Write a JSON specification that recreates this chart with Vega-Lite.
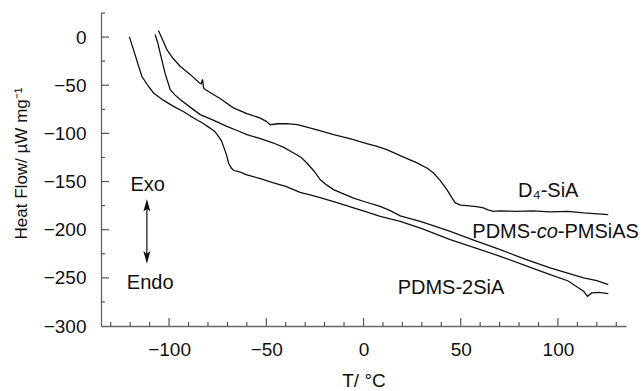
{
  "$schema": "https://vega.github.io/schema/vega-lite/v6.json",
  "width": 525,
  "height": 313,
  "autosize": {"type": "none"},
  "padding": {"left": 101, "top": 13, "right": 18, "bottom": 65},
  "background": "white",
  "config": {
    "view": {"stroke": null},
    "font": "Liberation Sans",
    "axis": {"grid": false, "domainColor": "#666", "tickColor": "#666", "domainWidth": 1.3, "labelFont": "Liberation Sans", "titleFont": "Liberation Sans", "labelColor": "#111", "titleColor": "#111", "titleFontWeight": "normal"}
  },
  "datasets": {
    "curves": [
      {"s":"A","x":-120.4,"y":0.2},{"s":"A","x":-118.3,"y":-13},{"s":"A","x":-116,"y":-28},{"s":"A","x":-114,"y":-40.7},{"s":"A","x":-111,"y":-50},{"s":"A","x":-108,"y":-58},{"s":"A","x":-103,"y":-65.5},{"s":"A","x":-97.7,"y":-72},{"s":"A","x":-92,"y":-78},{"s":"A","x":-87.4,"y":-84},{"s":"A","x":-83,"y":-89},{"s":"A","x":-78.9,"y":-94.5},{"s":"A","x":-76.5,"y":-98},{"s":"A","x":-74.6,"y":-103},{"s":"A","x":-73,"y":-108},{"s":"A","x":-72,"y":-113.5},{"s":"A","x":-70.5,"y":-122},{"s":"A","x":-69.4,"y":-130.7},{"s":"A","x":-68,"y":-136},{"s":"A","x":-66.9,"y":-138.3},{"s":"A","x":-63,"y":-140.5},{"s":"A","x":-60,"y":-143},{"s":"A","x":-53,"y":-147},{"s":"A","x":-46.3,"y":-151.5},{"s":"A","x":-40,"y":-155},{"s":"A","x":-32.6,"y":-161.2},{"s":"A","x":-26,"y":-164.5},{"s":"A","x":-18.8,"y":-168.8},{"s":"A","x":-12,"y":-173},{"s":"A","x":-5.1,"y":-177.4},{"s":"A","x":1.5,"y":-181.5},{"s":"A","x":8.6,"y":-186.1},{"s":"A","x":18.9,"y":-191.3},{"s":"A","x":30,"y":-199},{"s":"A","x":44.6,"y":-210.3},{"s":"A","x":57,"y":-218.5},{"s":"A","x":70.3,"y":-227.6},{"s":"A","x":83,"y":-237},{"s":"A","x":96,"y":-246.6},{"s":"A","x":105,"y":-253},{"s":"A","x":113.2,"y":-264},{"s":"A","x":115.2,"y":-269.2},{"s":"A","x":117.4,"y":-265.7},{"s":"A","x":121,"y":-265},{"s":"A","x":125.9,"y":-266.4},
      {"s":"B","x":-107.2,"y":2.6},{"s":"B","x":-105.8,"y":-6},{"s":"B","x":-104.6,"y":-16.4},{"s":"B","x":-102,"y":-38},{"s":"B","x":-99.4,"y":-54.5},{"s":"B","x":-97,"y":-60},{"s":"B","x":-94.3,"y":-64.9},{"s":"B","x":-89,"y":-73},{"s":"B","x":-84,"y":-80.5},{"s":"B","x":-77,"y":-86.5},{"s":"B","x":-70.3,"y":-92.7},{"s":"B","x":-65,"y":-97},{"s":"B","x":-60,"y":-101.3},{"s":"B","x":-53,"y":-105.5},{"s":"B","x":-46.3,"y":-110},{"s":"B","x":-41,"y":-114.5},{"s":"B","x":-36,"y":-120.4},{"s":"B","x":-32,"y":-125},{"s":"B","x":-29.1,"y":-130.8},{"s":"B","x":-25.5,"y":-139},{"s":"B","x":-22.3,"y":-148},{"s":"B","x":-19,"y":-153.5},{"s":"B","x":-15.4,"y":-158.4},{"s":"B","x":-10,"y":-163},{"s":"B","x":-5.1,"y":-167.2},{"s":"B","x":1.5,"y":-171.5},{"s":"B","x":8.6,"y":-175.9},{"s":"B","x":14,"y":-180.5},{"s":"B","x":18.9,"y":-185.6},{"s":"B","x":30,"y":-192},{"s":"B","x":44.6,"y":-201.7},{"s":"B","x":57,"y":-211},{"s":"B","x":70.3,"y":-220.7},{"s":"B","x":83,"y":-230.5},{"s":"B","x":96,"y":-239.7},{"s":"B","x":105,"y":-245},{"s":"B","x":113.2,"y":-250.1},{"s":"B","x":120,"y":-253},{"s":"B","x":125.9,"y":-257},
      {"s":"C","x":-105.5,"y":6.8},{"s":"C","x":-103.5,"y":-2},{"s":"C","x":-101.1,"y":-13},{"s":"C","x":-98,"y":-22},{"s":"C","x":-94.3,"y":-30.3},{"s":"C","x":-89,"y":-39},{"s":"C","x":-84.5,"y":-47.5},{"s":"C","x":-83.5,"y":-48.5},{"s":"C","x":-82.8,"y":-44},{"s":"C","x":-82.2,"y":-53},{"s":"C","x":-81.4,"y":-54.5},{"s":"C","x":-74,"y":-63.5},{"s":"C","x":-66.9,"y":-73.5},{"s":"C","x":-60,"y":-79.5},{"s":"C","x":-53.1,"y":-84.1},{"s":"C","x":-50,"y":-87.5},{"s":"C","x":-48,"y":-91},{"s":"C","x":-44,"y":-90},{"s":"C","x":-39.4,"y":-89.9},{"s":"C","x":-34,"y":-90.8},{"s":"C","x":-29.1,"y":-93.4},{"s":"C","x":-22,"y":-97.5},{"s":"C","x":-15.4,"y":-101.3},{"s":"C","x":-7,"y":-105.5},{"s":"C","x":1.7,"y":-110.6},{"s":"C","x":7,"y":-113.5},{"s":"C","x":12,"y":-116.9},{"s":"C","x":18.9,"y":-123.1},{"s":"C","x":27.5,"y":-130.7},{"s":"C","x":33,"y":-136.5},{"s":"C","x":36,"y":-141.1},{"s":"C","x":39.5,"y":-149},{"s":"C","x":42.9,"y":-158.4},{"s":"C","x":45.5,"y":-167},{"s":"C","x":47.2,"y":-172.2},{"s":"C","x":50,"y":-174.5},{"s":"C","x":53.2,"y":-175},{"s":"C","x":58,"y":-176},{"s":"C","x":61.7,"y":-177.4},{"s":"C","x":64,"y":-179.5},{"s":"C","x":66.9,"y":-181},{"s":"C","x":70,"y":-180.5},{"s":"C","x":78.9,"y":-181},{"s":"C","x":87,"y":-180.5},{"s":"C","x":96,"y":-181.5},{"s":"C","x":105,"y":-181},{"s":"C","x":113.2,"y":-182.6},{"s":"C","x":125.9,"y":-184.4}
    ],
    "xticks": [
      {"v":-130,"k":"minor"},{"v":-120,"k":"minor"},{"v":-110,"k":"minor"},{"v":-100,"k":"major"},{"v":-90,"k":"minor"},{"v":-80,"k":"minor"},{"v":-70,"k":"minor"},{"v":-60,"k":"minor"},{"v":-50,"k":"major"},{"v":-40,"k":"minor"},{"v":-30,"k":"minor"},{"v":-20,"k":"minor"},{"v":-10,"k":"minor"},{"v":0,"k":"major"},{"v":10,"k":"minor"},{"v":20,"k":"minor"},{"v":30,"k":"minor"},{"v":40,"k":"minor"},{"v":50,"k":"major"},{"v":60,"k":"minor"},{"v":70,"k":"minor"},{"v":80,"k":"minor"},{"v":90,"k":"minor"},{"v":100,"k":"major"},{"v":110,"k":"minor"},{"v":120,"k":"minor"},{"v":130,"k":"minor"}
    ],
    "yticks": [
      {"v":-275,"k":"minor"},{"v":-250,"k":"major"},{"v":-225,"k":"minor"},{"v":-200,"k":"major"},{"v":-175,"k":"minor"},{"v":-150,"k":"major"},{"v":-125,"k":"minor"},{"v":-100,"k":"major"},{"v":-75,"k":"minor"},{"v":-50,"k":"major"},{"v":-25,"k":"minor"},{"v":0,"k":"major"},{"v":25,"k":"minor"}
    ],
    "labels": [
      {"text":"D₄-SiA","x":95,"y":-159.5},
      {"text":"PDMS-2SiA","x":45,"y":-261},
      {"text":"Exo","x":-111,"y":-154},
      {"text":"Endo","x":-109.7,"y":-255.5}
    ],
    "colabel": [
      {"part":"pre","text":"PDMS-","x":94.5,"y":-202},
      {"part":"mid","text":"co","x":94.5,"y":-202},
      {"part":"post","text":"-PMSiAS","x":94.5,"y":-202}
    ],
    "arrow": [{"x":-111.4,"y":-172,"y2":-231}],
    "heads": [
      {"dir":"up","x":-111.4,"y":-175.3},
      {"dir":"down","x":-111.4,"y":-228}
    ]
  },
  "layer": [
    {
      "data": {"name": "curves"},
      "mark": {"type": "line", "color": "#111", "strokeWidth": 1.3},
      "encoding": {
        "x": {"field": "x", "type": "quantitative", "scale": {"domain": [-135, 135], "nice": false, "zero": false},
              "axis": {"orient": "bottom", "values": [-100, -50, 0, 50, 100], "tickSize": -8, "tickOpacity": 0, "labelOverlap": false, "labelPadding": 22, "labelFontSize": 19, "title": "T/ °C", "titleFontSize": 19, "titleY": 54, "titleBaseline": "middle"}},
        "y": {"field": "y", "type": "quantitative", "scale": {"domain": [-300, 25], "nice": false, "zero": false},
              "axis": {"orient": "left", "values": [-300, -250, -200, -150, -100, -50, 0], "tickSize": -8, "tickOpacity": 0, "labelOverlap": false, "labelPadding": 23, "labelFontSize": 19, "title": "Heat Flow/ µW mg⁻¹", "titleFontSize": 17, "titleX": -80, "titleY": 150, "titleAngle": -90, "titleBaseline": "middle", "titleAlign": "center"}},
        "detail": {"field": "s"}
      }
    },
    {
      "data": {"name": "xticks"},
      "transform": [{"filter": "datum.k === 'major'"}],
      "mark": {"type": "tick", "orient": "vertical", "size": 8, "thickness": 1.2, "yOffset": -4, "color": "#555", "opacity": 1},
      "encoding": {
        "x": {"field": "v", "type": "quantitative"},
        "y": {"datum": -300, "type": "quantitative"}
      }
    },
    {
      "data": {"name": "xticks"},
      "transform": [{"filter": "datum.k === 'minor'"}],
      "mark": {"type": "tick", "orient": "vertical", "size": 4, "thickness": 1.2, "yOffset": -2, "color": "#555", "opacity": 1},
      "encoding": {
        "x": {"field": "v", "type": "quantitative"},
        "y": {"datum": -300, "type": "quantitative"}
      }
    },
    {
      "data": {"name": "yticks"},
      "transform": [{"filter": "datum.k === 'major'"}],
      "mark": {"type": "tick", "orient": "horizontal", "size": 8, "thickness": 1.2, "xOffset": 4, "color": "#555", "opacity": 1},
      "encoding": {
        "y": {"field": "v", "type": "quantitative"},
        "x": {"datum": -135, "type": "quantitative"}
      }
    },
    {
      "data": {"name": "yticks"},
      "transform": [{"filter": "datum.k === 'minor'"}],
      "mark": {"type": "tick", "orient": "horizontal", "size": 4, "thickness": 1.2, "xOffset": 2, "color": "#555", "opacity": 1},
      "encoding": {
        "y": {"field": "v", "type": "quantitative"},
        "x": {"datum": -135, "type": "quantitative"}
      }
    },
    {
      "data": {"name": "arrow"},
      "mark": {"type": "rule", "color": "#111", "strokeWidth": 1.2},
      "encoding": {
        "x": {"field": "x", "type": "quantitative"},
        "y": {"field": "y", "type": "quantitative"},
        "y2": {"field": "y2"}
      }
    },
    {
      "data": {"name": "heads"},
      "transform": [{"filter": "datum.dir === 'up'"}],
      "mark": {"type": "point", "shape": "M0,-1L0.5,0.8L0,0.4L-0.5,0.8Z", "size": 196, "filled": true, "color": "#111", "opacity": 1},
      "encoding": {
        "x": {"field": "x", "type": "quantitative"},
        "y": {"field": "y", "type": "quantitative"}
      }
    },
    {
      "data": {"name": "heads"},
      "transform": [{"filter": "datum.dir === 'down'"}],
      "mark": {"type": "point", "shape": "M0,1L0.5,-0.8L0,-0.4L-0.5,-0.8Z", "size": 196, "filled": true, "color": "#111", "opacity": 1},
      "encoding": {
        "x": {"field": "x", "type": "quantitative"},
        "y": {"field": "y", "type": "quantitative"}
      }
    },
    {
      "data": {"name": "labels"},
      "mark": {"type": "text", "fontSize": 20, "color": "#111", "align": "center", "baseline": "middle", "font": "Liberation Sans"},
      "encoding": {
        "x": {"field": "x", "type": "quantitative"},
        "y": {"field": "y", "type": "quantitative"},
        "text": {"field": "text"}
      }
    },
    {
      "data": {"name": "colabel"},
      "transform": [{"filter": "datum.part === 'pre'"}],
      "mark": {"type": "text", "fontSize": 20, "color": "#111", "align": "right", "baseline": "middle", "dx": -10.5, "font": "Liberation Sans"},
      "encoding": {
        "x": {"field": "x", "type": "quantitative"},
        "y": {"field": "y", "type": "quantitative"},
        "text": {"field": "text"}
      }
    },
    {
      "data": {"name": "colabel"},
      "transform": [{"filter": "datum.part === 'mid'"}],
      "mark": {"type": "text", "fontSize": 20, "color": "#111", "align": "center", "baseline": "middle", "fontStyle": "italic", "font": "Liberation Sans"},
      "encoding": {
        "x": {"field": "x", "type": "quantitative"},
        "y": {"field": "y", "type": "quantitative"},
        "text": {"field": "text"}
      }
    },
    {
      "data": {"name": "colabel"},
      "transform": [{"filter": "datum.part === 'post'"}],
      "mark": {"type": "text", "fontSize": 20, "color": "#111", "align": "left", "baseline": "middle", "dx": 10.5, "font": "Liberation Sans"},
      "encoding": {
        "x": {"field": "x", "type": "quantitative"},
        "y": {"field": "y", "type": "quantitative"},
        "text": {"field": "text"}
      }
    }
  ]
}
